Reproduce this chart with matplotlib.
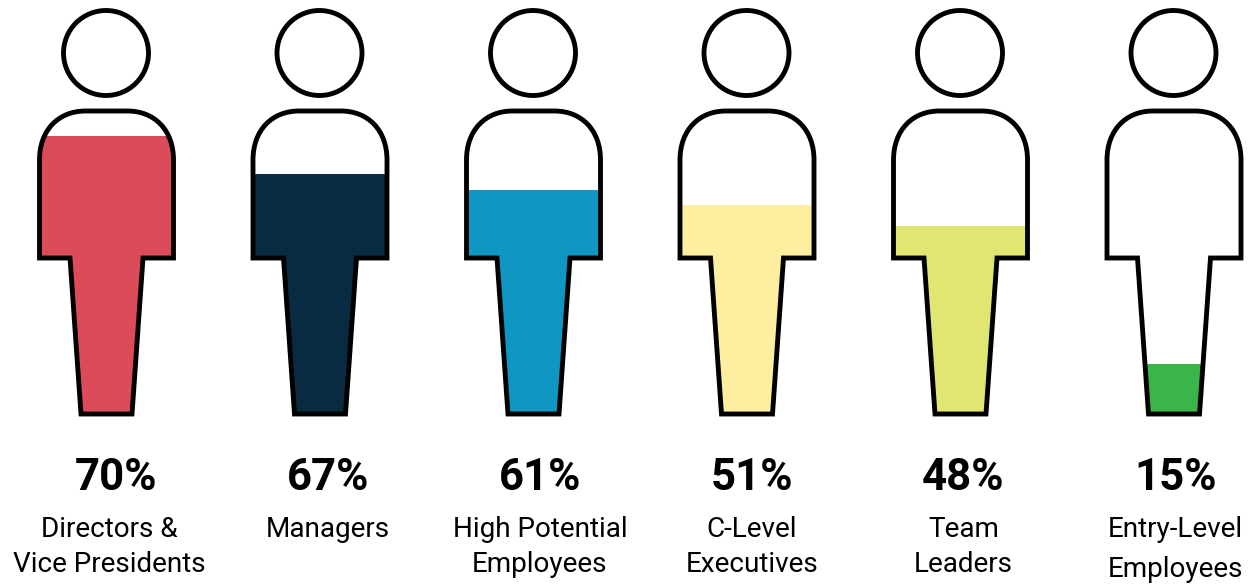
import matplotlib
matplotlib.use("Agg")
import matplotlib.pyplot as plt
from matplotlib.patches import Circle, PathPatch
from matplotlib.path import Path

plt.rcParams['font.family'] = ['Roboto', 'DejaVu Sans']

groups = ["Directors &\nVice Presidents", "Managers", "High Potential\nEmployees",
          "C-Level\nExecutives", "Team\nLeaders", "Entry-Level\nEmployees"]
percents = [70, 67, 61, 51, 48, 15]
# how far the colour reaches up the body (not the same as the percent)
fill_share = [0.917, 0.792, 0.739, 0.690, 0.620, 0.165]
colors = ["#DC4B59", "#082B42", "#0F96C2", "#FDEEA0", "#E1E672", "#3AB54A"]

W, H = 1253, 584
body_top = 111
body_bottom = 414
# layout in pixels
person_x = [106.5, 320, 533.5, 747, 960.5, 1174]
text_x = [115.5, 328, 540, 752, 963.5, 1175.5]
label_x = [109, 328, 540, 752, 963.5, 1175]
line_gap = [34.5, 34.5, 34.5, 34.5, 34.5, 40]


def body_path(cx):
    verts = [(cx-67, 160), (cx-67, 130), (cx-48, 111), (cx-21, 111),
             (cx+21, 111), (cx+48, 111), (cx+67, 130), (cx+67, 160),
             (cx+67, 258), (cx+36.5, 258), (cx+25.5, 414), (cx-25.5, 414),
             (cx-36.5, 258), (cx-67, 258), (cx-67, 160)]
    codes = [Path.MOVETO, Path.CURVE4, Path.CURVE4, Path.CURVE4,
             Path.LINETO, Path.CURVE4, Path.CURVE4, Path.CURVE4,
             Path.LINETO, Path.LINETO, Path.LINETO, Path.LINETO,
             Path.LINETO, Path.LINETO, Path.CLOSEPOLY]
    return Path(verts, codes)


fig = plt.figure(figsize=(W/100, H/100), dpi=100)
ax = fig.add_axes([0, 0, 1, 1])
ax.set_xlim(0, W)
ax.set_ylim(H, 0)
ax.axis("off")

for i in range(len(groups)):
    cx = person_x[i]
    # colour level, cut to the body outline
    clip = PathPatch(body_path(cx), transform=ax.transData)
    h = fill_share[i]*(body_bottom-body_top)
    bars = ax.bar(cx, -h, bottom=body_bottom, width=140, color=colors[i], linewidth=0)
    bars[0].set_clip_path(clip)
    ax.add_patch(PathPatch(body_path(cx), facecolor="none", edgecolor="black", linewidth=3.5, joinstyle="miter"))
    ax.add_patch(Circle((cx-0.5, 53), 42.5, facecolor="none", edgecolor="black", linewidth=3.5))

    ax.text(text_x[i], 490, str(percents[i])+"%", fontsize=31.5, fontweight="bold",
            ha="center", va="baseline", color="black")
    for j, line in enumerate(groups[i].split("\n")):
        ax.text(label_x[i], 537+j*line_gap[i], line, fontsize=20.1, ha="center",
                va="baseline", color="black")

fig.savefig("out.png", dpi=100, facecolor="white")
